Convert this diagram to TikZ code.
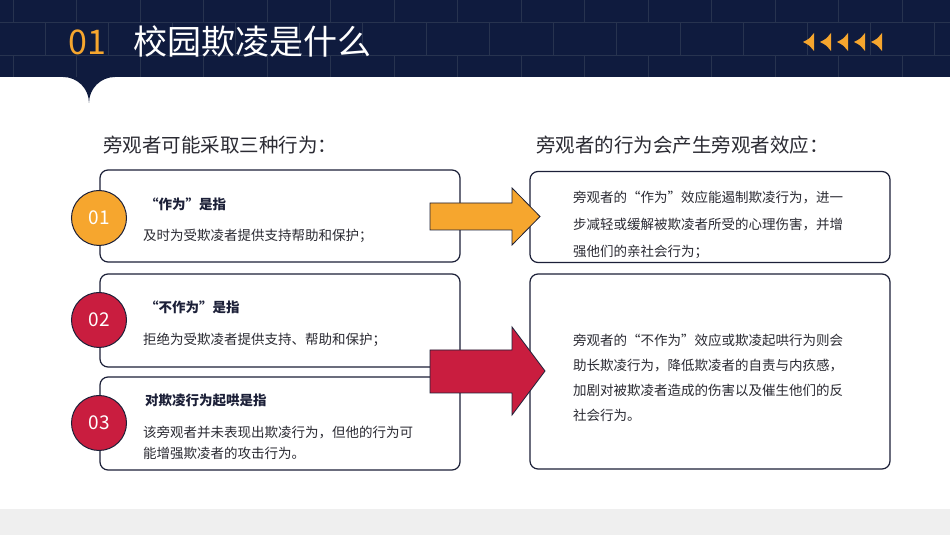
\documentclass[tikz,border=0pt]{standalone}
\usepackage{fontspec}
\setmainfont{Noto Sans CJK SC}
\usetikzlibrary{positioning}
\definecolor{navy}{HTML}{0F1B3E}
\definecolor{brick}{HTML}{27334F}
\definecolor{accent}{HTML}{F6A62E}
\definecolor{crimson}{HTML}{C91D3F}
\definecolor{edge}{HTML}{1C2038}
\definecolor{ink}{HTML}{2B2B33}
\definecolor{band}{HTML}{EFEFEF}

\begin{document}
\begin{tikzpicture}[x=1pt, y=1pt,
    box/.style={draw=edge, line width=1.2pt, rounded corners=8pt, fill=white,
                minimum width=360pt, inner sep=0pt},
    numdot/.style={circle, draw=edge, line width=1pt, minimum size=55pt,
                   inner sep=0pt, text=white, font=\fontsize{19}{19}\selectfont},
    headtxt/.style={anchor=west, inner sep=0pt, text=ink, font=\fontsize{19.5}{22}\selectfont},
    titletxt/.style={anchor=west, inner sep=0pt, text=edge, font=\bfseries\fontsize{13.5}{16}\selectfont},
    bodytxt/.style={anchor=west, inner sep=0pt, text=ink, align=left},
    blockarrow/.style={draw=edge, line width=0.8pt, line join=miter}
  ]
    % canvas (x=0..950, y=0..535)
    \useasboundingbox (0,0) rectangle (950,535);
    \fill[white] (0,0) rectangle (950,535);

    % ===== HEADER: brick band + notch =====
    \fill[navy] (0,458) rectangle (950,535);
    \fill[navy] (63,458) arc[start angle=90, end angle=0, radius=26pt]
                        arc[start angle=180, end angle=90, radius=26pt] -- cycle;
    \draw[brick, line width=0.8pt] (0,513) -- (950,513);
    \draw[brick, line width=0.8pt] (0,480) -- (950,480);
    \foreach \k in {0,...,14} {
      \draw[brick, line width=0.8pt] ({13+63.5*\k}, 513) -- ({13+63.5*\k}, 535);
      \draw[brick, line width=0.8pt] ({45+63.5*\k}, 480) -- ({45+63.5*\k}, 513);
      \draw[brick, line width=0.8pt] ({13+63.5*\k}, 458) -- ({13+63.5*\k}, 480);
    }
    \node[anchor=west, inner sep=0pt, text=accent, font=\fontsize{34}{36}\selectfont]
      (secnum) at (68, 493) {01};
    \node[anchor=west, inner sep=0pt, text=white, font=\fontsize{34}{36}\selectfont]
      (sectitle) at (133, 493) {校园欺凌是什么};

    % little arrowheads, right side
    \foreach \k in {0,...,4} {
      \fill[accent] ({803+17*\k}, 493) .. controls ({809+17*\k}, 496) .. ({814+17*\k}, 502)
                    -- ({814+17*\k}, 484) .. controls ({809+17*\k}, 490) .. cycle;
    }

    % ===== FOOTER band =====
    \fill[band] (0,0) rectangle (950,26);

    % ===== LEFT COLUMN: three behaviours =====
    \node[headtxt] (lefthead) at (103, 390) {旁观者可能采取三种行为：};

    \node[box, minimum height=92pt] (act)   at (280, 319)   {};
    \node[box, minimum height=93pt] (noact) at (280, 214.5) {};
    \node[box, minimum height=93pt] (cheer) at (280, 111.5) {};

    \node[numdot, fill=accent]  (n1) at (99, 317) {01};
    \node[numdot, fill=crimson] (n2) at (99, 215) {02};
    \node[numdot, fill=crimson] (n3) at (99, 112) {03};

    \node[titletxt] (acttitle)   at (145, 331) {“作为”是指};
    \node[bodytxt, font=\fontsize{13.5}{21}\selectfont]
      (actbody) at (143, 299) {及时为受欺凌者提供支持帮助和保护；};

    \node[titletxt] (noacttitle) at (145, 228) {“不作为”是指};
    \node[bodytxt, font=\fontsize{13.5}{21}\selectfont]
      (noactbody) at (143, 195) {拒绝为受欺凌者提供支持、帮助和保护；};

    \node[titletxt] (cheertitle) at (145, 135) {对欺凌行为起哄是指};
    \node[bodytxt, font=\fontsize{13.5}{21}\selectfont]
      (cheerbody) at (143, 92.5) {该旁观者并未表现出欺凌行为，但他的行为可\\能增强欺凌者的攻击行为。};

    % ===== RIGHT COLUMN: bystander effect =====
    \node[headtxt] (righthead) at (536, 390) {旁观者的行为会产生旁观者效应：};

    \node[box, minimum height=91pt]  (goodfx) at (710, 318)   {};
    \node[box, minimum height=195pt] (badfx)  at (710, 163.5) {};

    \node[bodytxt, font=\fontsize{13.5}{27}\selectfont] (goodtxt) at (573, 310)
      {旁观者的“作为”效应能遏制欺凌行为，进一\\步减轻或缓解被欺凌者所受的心理伤害，并增\\强他们的亲社会行为；};
    \node[bodytxt, font=\fontsize{13.5}{25}\selectfont] (badtxt) at (573, 157.5)
      {旁观者的“不作为”效应或欺凌起哄行为则会\\助长欺凌行为，降低欺凌者的自责与内疚感，\\加剧对被欺凌者造成的伤害以及催生他们的反\\社会行为。};

    % ===== block arrows =====
    \draw[blockarrow, fill=accent] (430,305) -- (430,332) -- (512,332) -- (512,347)
      -- (540,318.5) -- (512,290) -- (512,305) -- cycle;
    \draw[blockarrow, fill=crimson] (430,142) -- (430,185) -- (512,185) -- (512,208)
      -- (545,164) -- (512,120) -- (512,142) -- cycle;

  \end{tikzpicture}
\end{document}
